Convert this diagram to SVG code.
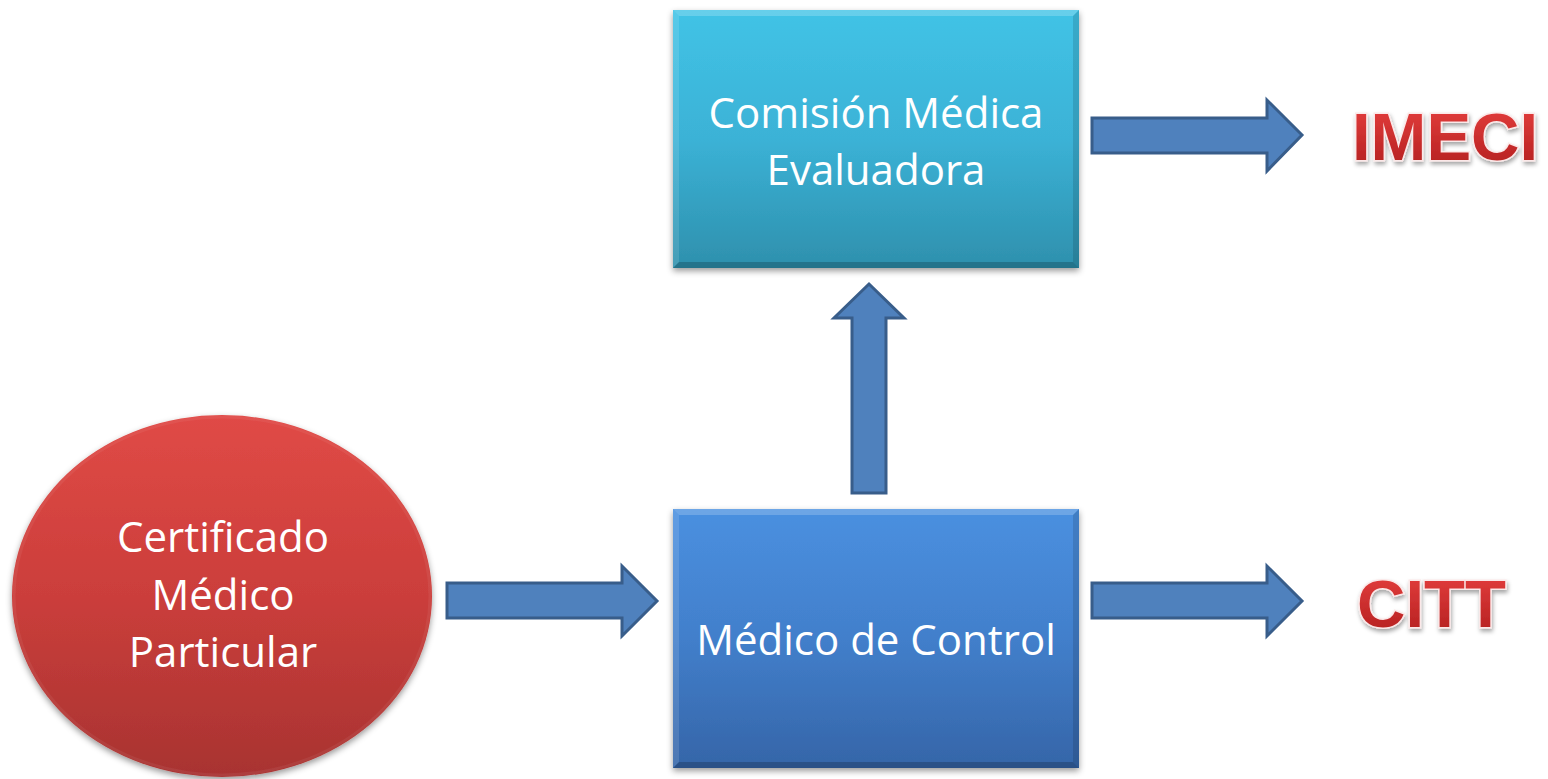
<svg xmlns="http://www.w3.org/2000/svg" width="1548" height="779" viewBox="0 0 1548 779">
<style>
.lbl{font-family:"Open Sans","Liberation Sans",sans-serif;font-size:42px;fill:#fff;text-anchor:middle}
.big{font-family:"Liberation Sans",Arial,sans-serif;font-weight:bold;font-size:67px;fill:url(#redtxt);stroke:#fbe8e8;stroke-width:3;paint-order:stroke;filter:url(#tshadow)}
.arr{fill:#4F81BD;stroke:#385D8A;stroke-width:3;stroke-linejoin:miter}
</style>
<defs>
<linearGradient id="cyan" x1="0" y1="0" x2="0" y2="1"><stop offset="0" stop-color="#41C3E6"/><stop offset="0.5" stop-color="#3BB2D6"/><stop offset="1" stop-color="#2E90AD"/></linearGradient>
<linearGradient id="blue" x1="0" y1="0" x2="0" y2="1"><stop offset="0" stop-color="#4A90E0"/><stop offset="0.5" stop-color="#427FCB"/><stop offset="1" stop-color="#3565A8"/></linearGradient>
<linearGradient id="red" x1="0" y1="0" x2="0" y2="1"><stop offset="0" stop-color="#E04A46"/><stop offset="0.5" stop-color="#CB3E3B"/><stop offset="1" stop-color="#A83331"/></linearGradient>
<linearGradient id="redtxt" x1="0" y1="0" x2="0" y2="1"><stop offset="0" stop-color="#E8403F"/><stop offset="1" stop-color="#B01E1E"/></linearGradient>
<filter id="shadow" x="-10%" y="-10%" width="120%" height="125%"><feDropShadow dx="0" dy="3" stdDeviation="3" flood-color="#000" flood-opacity="0.4"/></filter>
<filter id="tshadow" x="-10%" y="-20%" width="120%" height="150%"><feDropShadow dx="1" dy="3" stdDeviation="2" flood-color="#000" flood-opacity="0.35"/></filter>
</defs>
<rect width="1548" height="779" fill="#fff"/>

<g id="connectors">
<polygon class="arr" points="447,583 622,583 622,566 657,601 622,636 622,618 447,618"/>
<polygon class="arr" points="852,493 852,318 834,318 869,284 904,318 886,318 886,493"/>
<polygon class="arr" points="1092,118 1267,118 1267,100 1302,135 1267,171 1267,153 1092,153"/>
<polygon class="arr" points="1092,583 1267,583 1267,566 1302,601 1267,636 1267,618 1092,618"/>
</g>

<g id="node-comision">
<rect x="673" y="10" width="406" height="258" fill="url(#cyan)" filter="url(#shadow)"/>
<polygon points="673,10 1079,10 1073,16 679,16" fill="#fff" opacity="0.2"/>
<polygon points="673,10 679,16 679,262 673,268" fill="#fff" opacity="0.12"/>
<polygon points="1079,10 1073,16 1073,262 1079,268" fill="#000" opacity="0.12"/>
<polygon points="673,268 679,262 1073,262 1079,268" fill="#000" opacity="0.2"/>
<text class="lbl" x="876" y="128">Comisión Médica</text>
<text class="lbl" x="876" y="185">Evaluadora</text>
</g>

<g id="node-medico">
<rect x="673" y="509" width="406" height="259" fill="url(#blue)" filter="url(#shadow)"/>
<polygon points="673,509 1079,509 1073,515 679,515" fill="#fff" opacity="0.2"/>
<polygon points="673,509 679,515 679,762 673,768" fill="#fff" opacity="0.12"/>
<polygon points="1079,509 1073,515 1073,762 1079,768" fill="#000" opacity="0.12"/>
<polygon points="673,768 679,762 1073,762 1079,768" fill="#000" opacity="0.2"/>
<text class="lbl" x="876" y="655">Médico de Control</text>
</g>

<g id="node-certificado">
<ellipse cx="222" cy="596" rx="210" ry="181" fill="url(#red)" filter="url(#shadow)"/>
<ellipse cx="222" cy="596" rx="208" ry="179" fill="none" stroke="#fff" stroke-opacity="0.06" stroke-width="3"/>
<text class="lbl" x="223" y="552">Certificado</text>
<text class="lbl" x="223" y="610">Médico</text>
<text class="lbl" x="223" y="667">Particular</text>
</g>

<g id="node-imeci">
<text class="big" x="1352" y="160">IMECI</text>
</g>
<g id="node-citt">
<text class="big" x="1357" y="627">CITT</text>
</g>
</svg>
